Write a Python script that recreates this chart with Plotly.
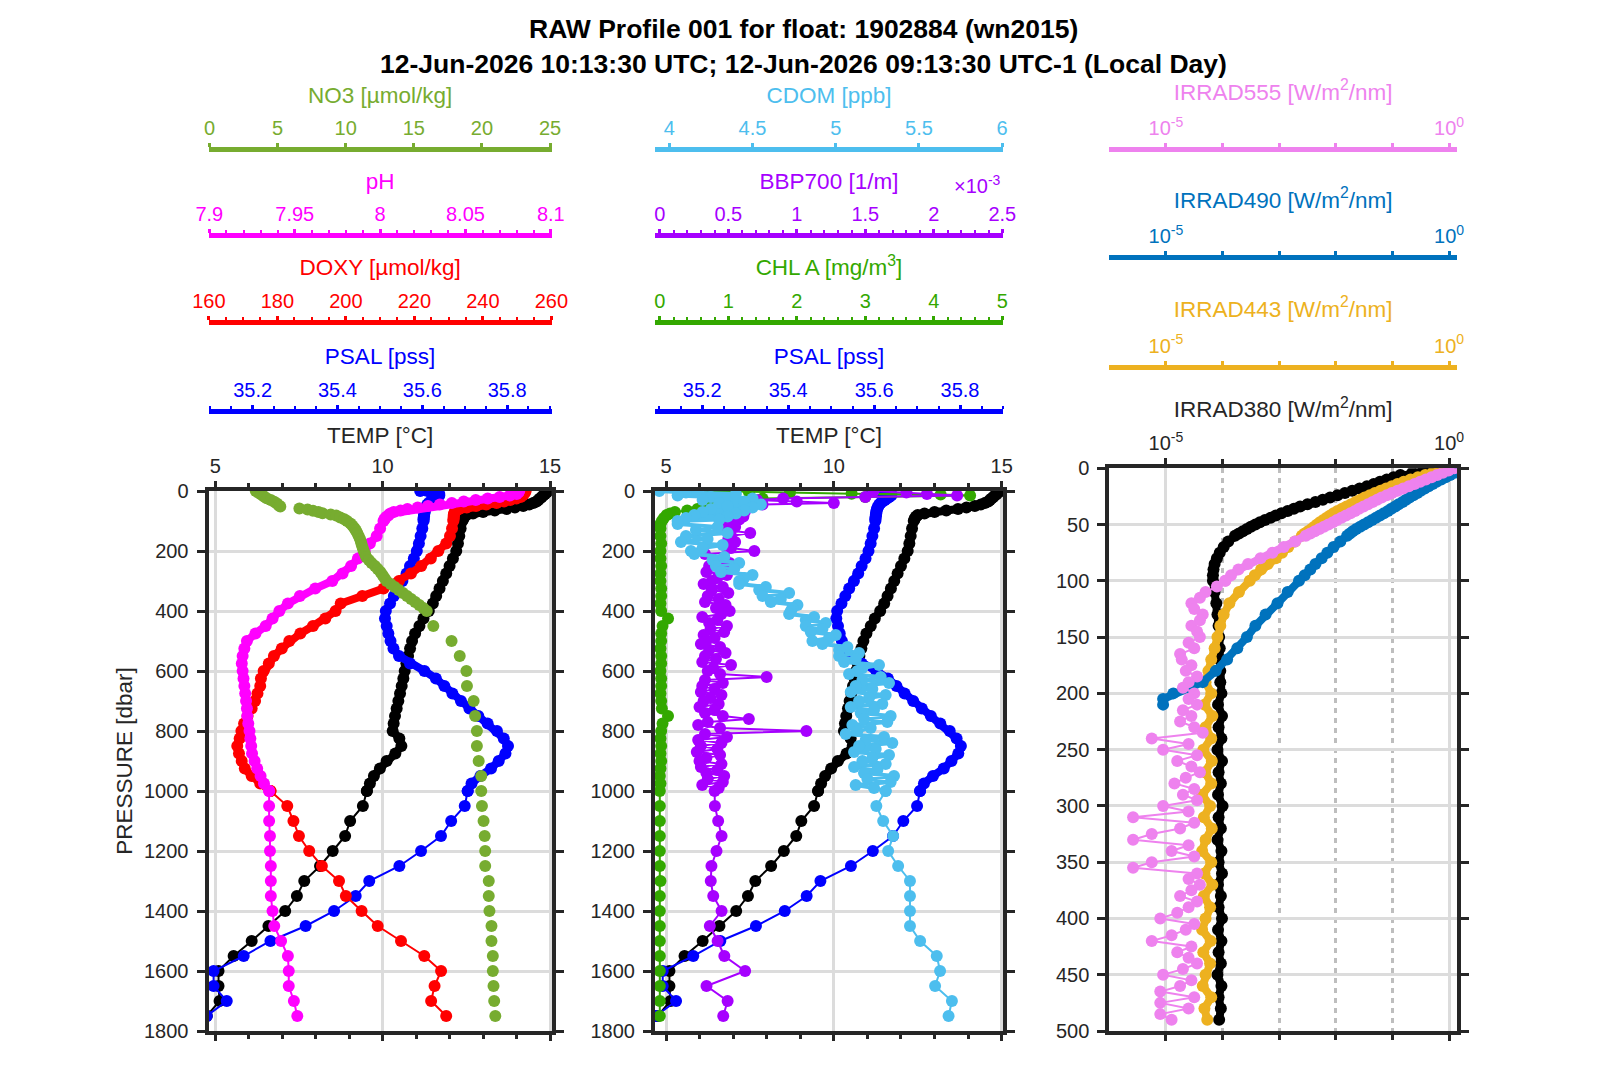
import plotly.graph_objects as go

# ---------------- DATA ----------------
# Left & middle panels: pressure levels (dbar)
PRES = [0, 5, 10, 15, 20, 25, 30, 35, 40, 45, 50, 55, 60, 65, 70, 75, 80, 85, 90, 95, 100,
        125, 150, 175, 200, 225, 250, 275, 300, 325, 350, 375, 400, 425, 450, 475, 500,
        525, 550, 575, 600, 625, 650, 675, 700, 725, 750, 775, 800, 825, 850, 875, 900,
        925, 950, 975, 1000,
        1050, 1100, 1150, 1200, 1250, 1300, 1350, 1400, 1450, 1500, 1550, 1600, 1650, 1700, 1750]

TEMP = [14.95, 14.9, 14.85, 14.8, 14.75, 14.7, 14.65, 14.6, 14.5, 14.38, 14.2, 13.95, 13.7, 13.35, 13.0,
        12.7, 12.5, 12.45, 12.42, 12.4, 12.38,
        12.33, 12.29, 12.25, 12.2, 12.1, 12.0, 11.9, 11.8, 11.7, 11.6, 11.5, 11.38, 11.22, 11.1, 10.97, 10.88,
        10.82, 10.76, 10.71, 10.66, 10.62, 10.57, 10.52, 10.47, 10.42, 10.37, 10.33, 10.3, 10.5, 10.56, 10.38, 10.12,
        9.92, 9.74, 9.62, 9.53,
        9.41, 9.03, 8.88, 8.51, 8.13, 7.66, 7.44, 7.09, 6.59, 6.09, 5.55, 5.1, 5.1, 5.13, 4.75]

PSAL = [35.595, 35.62, 35.64, 35.64, 35.635, 35.63, 35.625, 35.62, 35.615, 35.612, 35.61, 35.608, 35.607, 35.606,
        35.605, 35.605, 35.604, 35.604, 35.603, 35.603, 35.603,
        35.6, 35.596, 35.592, 35.587, 35.58, 35.571, 35.563, 35.553, 35.542, 35.533, 35.524, 35.514, 35.512, 35.516, 35.52, 35.525,
        35.532, 35.545, 35.571, 35.605, 35.632, 35.652, 35.671, 35.691, 35.711, 35.732, 35.754, 35.776, 35.792, 35.802, 35.796, 35.78,
        35.762, 35.737, 35.716, 35.707,
        35.70, 35.668, 35.644, 35.597, 35.546, 35.475, 35.443, 35.392, 35.325, 35.242, 35.179, 35.108, 35.108, 35.139, 35.092]

DOXY = [252.5, 252.3, 252, 251.6, 251, 249.8, 248, 246.2, 244, 241, 238, 235.3, 233, 232.3, 231.8, 231.6, 231.5,
        231.5, 231.5, 231.4, 231.4,
        231, 230.4, 229.3, 227, 224.8, 222, 219, 215.5, 211, 204.8, 198.5, 197, 194, 190.4, 186.7, 183.5,
        181.3, 179, 177.5, 176, 175.2, 175, 174.2, 173.5, 172.5, 171.3, 170.3, 169.5, 169, 168.3, 168.8, 169.6,
        170.5, 172.5, 175, 178,
        182.9, 184.7, 186.3, 189.3, 193, 198, 200, 204.6, 209.3, 216.1, 222.9, 227.8, 225.9, 224.9, 229.3]

PH = [8.0815, 8.081, 8.08, 8.076, 8.07, 8.063, 8.056, 8.049, 8.042, 8.035, 8.028, 8.022, 8.016, 8.012, 8.008,
      8.006, 8.005, 8.004, 8.003, 8.0025, 8.002,
      8.0, 7.998, 7.994, 7.991, 7.987, 7.983, 7.978, 7.972, 7.962, 7.953, 7.946, 7.941, 7.937, 7.933, 7.927, 7.922,
      7.9205, 7.9195, 7.919, 7.9195, 7.92, 7.9205, 7.921, 7.9215, 7.922, 7.9222, 7.9228, 7.9235, 7.924, 7.9245, 7.925, 7.9265,
      7.928, 7.93, 7.932, 7.935,
      7.935, 7.935, 7.9355, 7.9355, 7.936, 7.936, 7.936, 7.937, 7.938, 7.942, 7.946, 7.9465, 7.9465, 7.9495, 7.9515]

PRES_NO3 = [0, 6, 12, 18, 24, 30, 36, 42, 48, 52,
            58, 62, 66, 70, 74, 78, 82, 88, 94, 100, 108, 116, 124, 132, 140,
            150, 160, 170, 180, 190, 200, 210, 220, 230, 240, 250, 260, 270, 280, 290, 300,
            310, 320, 330, 340, 350, 360, 370, 380, 390, 400,
            450, 500, 550, 600, 650, 700, 750, 800, 850, 900, 950, 1000, 1050, 1100, 1150,
            1200, 1250, 1300, 1350, 1400, 1450, 1500, 1550, 1600, 1650, 1700, 1750]
NO3 = [3.4, 3.6, 3.8, 4.0, 4.2, 4.5, 4.75, 4.95, 5.1, 5.2,
       6.6, 7.2, 7.6, 8.0, 8.3, 8.9, 9.3, 9.6, 9.9, 10.1, 10.35, 10.5, 10.65, 10.75, 10.85,
       10.95, 11.05, 11.12, 11.18, 11.25, 11.32, 11.42, 11.5, 11.7, 11.9, 12.15, 12.35, 12.55, 12.7, 12.85, 13.0,
       13.3, 13.6, 13.9, 14.2, 14.5, 14.8, 15.1, 15.4, 15.7, 15.95,
       16.43, 17.77, 18.37, 18.86, 18.9, 19.39, 19.5, 19.63, 19.63, 19.76, 19.95, 19.95, 20.0, 20.12, 20.2,
       20.24, 20.24, 20.5, 20.5, 20.55, 20.7, 20.7, 20.8, 20.8, 20.85, 20.9, 20.98]

PRES_CHL = [0, 3, 6, 9, 12, 15, 20, 25, 30, 40, 50, 60, 65, 70, 75, 80, 90, 100, 110,
            125, 150, 175, 200, 225, 250, 275, 300, 325, 350, 375, 400, 425, 450, 475, 500,
            525, 550, 575, 600, 625, 650, 675, 700, 725, 750, 775, 800, 825, 850, 875, 900,
            925, 950, 975, 1000,
            1050, 1100, 1150, 1200, 1250, 1300, 1350, 1400, 1450, 1500, 1550, 1600, 1650, 1700, 1750]
CHLA = [0.73, 1.3, 1.9, 2.8, 4.1, 4.53, 3.0, 1.5, 0.9, 0.7, 0.65, 0.55, 0.4, 0.22, 0.15, 0.1, 0.06, 0.03, 0.01,
        0.01, 0.01, 0.02, 0.01, 0.01, 0.02, 0.01, 0.01, 0.02, 0.02, 0.01, 0.02, 0.12, 0.04, 0.02, 0.02,
        0.01, 0.02, 0.02, 0.01, 0.02, 0.02, 0.01, 0.02, 0.03, 0.12, 0.04, 0.02, 0.01, 0.02, 0.01, 0.02,
        0.01, 0.0, 0.01, 0.0,
        0.0, 0.0, 0.0, 0.0, 0.0, 0.01, 0.0, 0.0, 0.0, 0.0, 0.0, 0.0, 0.0, 0.0, 0.0]

PRES_MID = [0, 5, 10, 15, 20, 25, 30, 35, 40, 45, 50, 55, 60, 65, 70, 75, 80, 85, 90, 95, 100,
            110, 120, 130, 140, 150, 160, 170, 180, 190, 200,
            210, 220, 230, 240, 250, 260, 270, 280, 290, 300,
            310, 320, 330, 340, 350, 360, 370, 380, 390, 400,
            410, 420, 430, 440, 450, 460, 470, 480, 490, 500,
            510, 520, 530, 540, 550, 560, 570, 580, 590, 600,
            610, 620, 630, 640, 650, 660, 670, 680, 690, 700,
            710, 720, 730, 740, 750, 760, 770, 780, 790, 800,
            810, 820, 830, 840, 850, 860, 870, 880, 890, 900,
            910, 920, 930, 940, 950, 960, 970, 980, 990, 1000,
            1050, 1100, 1150, 1200, 1250, 1300, 1350, 1400, 1450, 1500, 1550, 1600, 1650, 1700, 1750]
CDOM = [3.94, 4.1, 4.4, 4.05, 4.25, 4.5, 4.2, 4.45, 4.3, 4.55, 4.35, 4.5, 4.25, 4.45, 4.2, 4.4, 4.15, 4.35, 4.1, 4.3, 4.05,
        4.05, 4.29, 4.16, 4.35, 4.1, 4.23, 4.07, 4.32, 4.2, 4.13,
        4.15, 4.33, 4.26, 4.42, 4.28, 4.39, 4.31, 4.5, 4.45, 4.42,
        4.42, 4.58, 4.54, 4.72, 4.56, 4.67, 4.61, 4.77, 4.74, 4.73,
        4.72, 4.87, 4.82, 4.94, 4.82, 4.92, 4.85, 5.0, 4.96, 4.86,
        4.92, 5.07, 5.02, 5.14, 5.02, 5.12, 5.05, 5.26, 5.16, 5.13,
        5.08, 5.27, 5.16, 5.32, 5.12, 5.22, 5.09, 5.3, 5.2, 5.14,
        5.28, 5.09, 5.23, 5.15, 5.33, 5.17, 5.31, 5.1, 5.21, 5.13,
        5.06, 5.29, 5.18, 5.34, 5.14, 5.24, 5.11, 5.32, 5.22, 5.16,
        5.3, 5.11, 5.25, 5.17, 5.35, 5.19, 5.33, 5.12, 5.23, 5.3,
        5.244, 5.285, 5.345, 5.315, 5.375, 5.446, 5.446, 5.446, 5.446, 5.507, 5.607, 5.627, 5.597, 5.698, 5.678]
BBP700_E3 = [1.56, 1.8, 1.95, 2.17, 1.5, 0.9, 0.71, 1.0, 1.27, 0.75, 0.65, 0.6, 0.63, 0.58, 0.62, 0.57, 0.6, 0.61, 0.55, 0.58, 0.54,
             0.5, 0.55, 0.48, 0.66, 0.52, 0.5, 0.55, 0.47, 0.52, 0.69,
             0.33, 0.47, 0.39, 0.51, 0.36, 0.44, 0.34, 0.49, 0.42, 0.38,
             0.32, 0.46, 0.38, 0.5, 0.35, 0.43, 0.33, 0.48, 0.41, 0.51,
             0.45, 0.31, 0.42, 0.36, 0.49, 0.37, 0.47, 0.32, 0.4, 0.34,
             0.3, 0.44, 0.36, 0.48, 0.33, 0.41, 0.31, 0.52, 0.39, 0.35,
             0.44, 0.78, 0.33, 0.46, 0.31, 0.4, 0.3, 0.45, 0.37, 0.32,
             0.43, 0.29, 0.4, 0.33, 0.46, 0.65, 0.35, 0.28, 0.44, 1.07,
             0.33, 0.49, 0.28, 0.45, 0.3, 0.42, 0.27, 0.44, 0.34, 0.29,
             0.45, 0.3, 0.42, 0.34, 0.47, 0.35, 0.46, 0.31, 0.43, 0.4,
             0.402, 0.426, 0.451, 0.414, 0.377, 0.372, 0.39, 0.451, 0.365, 0.422, 0.471, 0.623, 0.341, 0.495, 0.463]

# Right panel: irradiance (stored as log10 of W/m^2/nm)
PRES_IRR = [0, 2, 4, 6, 8, 10, 12, 14, 16, 18, 20, 22, 24, 26, 28, 30, 32, 34, 36, 38, 40,
            42, 44, 46, 48, 50, 52, 54, 56, 58, 60, 65, 70, 75, 80, 85, 90, 95, 100,
            110, 120, 130, 140, 150, 160, 170, 180, 190, 200, 210, 220, 230, 240, 250, 260, 270, 280, 290,
            300, 310, 320, 330, 340, 350, 360, 370, 380, 390, 400, 410, 420, 430, 440, 450, 460, 470, 480, 490]
IRR380_LOG10 = [-0.27, -0.45, -0.65, -0.86, -0.98, -1.1, -1.22, -1.33, -1.45, -1.58, -1.71, -1.84, -1.97, -2.1, -2.23,
                -2.36, -2.5, -2.63, -2.74, -2.85, -2.96, -3.06, -3.15, -3.25, -3.34, -3.42, -3.5, -3.57, -3.64, -3.71,
                -3.78, -3.9, -3.98, -4.05, -4.1, -4.14, -4.16, -4.17, -4.17,
                -4.14, -4.11, -4.09, -4.07, -4.06, -4.05, -4.05, -4.04, -4.04, -4.02, -4.08, -4.01, -4.07, -4.02,
                -4.09, -4.01, -4.07, -4.03, -4.08, -4.0, -4.07, -4.03, -4.09, -4.02, -4.07, -4.01, -4.08, -4.03,
                -4.07, -4.01, -4.08, -4.02, -4.07, -4.03, -4.09, -4.02, -4.07, -4.03, -4.06]
IRR443_LOG10 = [-0.03, -0.16, -0.29, -0.42, -0.55, -0.68, -0.8, -0.91, -1.01, -1.11, -1.21, -1.31, -1.4, -1.49, -1.57,
                -1.65, -1.73, -1.81, -1.89, -1.97, -2.04, -2.1, -2.16, -2.22, -2.28, -2.33, -2.38, -2.43, -2.49, -2.55,
                -2.6, -2.72, -2.84, -2.95, -3.06, -3.2, -3.32, -3.43, -3.52,
                -3.71, -3.88, -3.98, -4.04, -4.09, -4.14, -4.2, -4.25, -4.3, -4.2, -4.32, -4.18, -4.3, -4.2,
                -4.34, -4.19, -4.31, -4.2, -4.36, -4.22, -4.33, -4.19, -4.3, -4.36, -4.2, -4.32, -4.18, -4.33,
                -4.22, -4.3, -4.36, -4.21, -4.34, -4.22, -4.3, -4.35, -4.2, -4.32, -4.27]
PRES_490 = [0, 2, 4, 6, 8, 10, 12, 14, 16, 18, 20, 22, 24, 26, 28, 30, 32, 34, 36, 38, 40,
            42, 44, 46, 48, 50, 52, 54, 56, 58, 60, 65, 70, 75, 80, 85, 90, 95, 100,
            110, 120, 130, 140, 150, 160, 170, 180, 190, 195, 200, 205, 210]
IRR490_LOG10 = [0.13, 0.12, 0.1, 0.02, -0.06, -0.14, -0.22, -0.29, -0.36, -0.43, -0.5, -0.56, -0.63, -0.7, -0.76,
                -0.82, -0.89, -0.95, -1.02, -1.08, -1.15, -1.22, -1.29, -1.36, -1.43, -1.5, -1.57, -1.64, -1.7, -1.75,
                -1.8, -1.92, -2.04, -2.15, -2.25, -2.36, -2.45, -2.55, -2.65,
                -2.85, -3.03, -3.24, -3.42, -3.57, -3.74, -3.92, -4.12, -4.35, -4.6, -4.87, -5.05, -5.05]
PRES_555 = [0, 2, 4, 6, 8, 10, 12, 14, 16, 18, 20, 22, 24, 26, 28, 30, 32, 34, 36, 38, 40,
            42, 44, 46, 48, 50, 52, 54, 56, 58, 60, 65, 70, 75, 80, 85, 90, 95, 100,
            105, 110, 115, 120, 125, 130, 135, 140, 145, 150, 155, 160, 165, 170, 175, 180, 185, 190, 195, 200,
            205, 210, 215, 220, 225, 230, 235, 240, 245, 250, 255, 260, 265, 270, 275, 280, 285, 290, 295, 300,
            305, 310, 315, 320, 325, 330, 335, 340, 345, 350, 355, 360, 365, 370, 375, 380, 385, 390, 395, 400,
            405, 410, 415, 420, 425, 430, 435, 440, 445, 450, 455, 460, 465, 470, 475, 480, 485, 490]
IRR555_LOG10 = [0.09, -0.01, -0.11, -0.21, -0.31, -0.41, -0.51, -0.61, -0.71, -0.81, -0.91, -1.01, -1.1, -1.19, -1.27,
                -1.35, -1.43, -1.51, -1.59, -1.66, -1.74, -1.82, -1.9, -1.98, -2.05, -2.13, -2.21, -2.29, -2.37, -2.45,
                -2.53, -2.72, -2.92, -3.12, -3.33, -3.55, -3.72, -3.85, -3.95,
                -4.1, -4.3, -4.4, -4.55, -4.5, -4.35, -4.4, -4.55, -4.45, -4.4,
                -4.6, -4.5, -4.75, -4.72, -4.55, -4.65, -4.45, -4.6, -4.7, -4.5,
                -4.6, -4.45, -4.7, -4.55, -4.75, -4.5, -4.35, -5.25, -4.6, -5.05,
                -4.45, -4.8, -4.55, -4.4, -4.65, -4.85, -4.5, -4.7, -4.45, -5.05,
                -4.6, -5.58, -4.5, -4.75, -5.25, -5.58, -4.6, -4.9, -4.5, -5.25,
                -5.58, -4.45, -4.6, -4.4, -4.55, -4.75, -4.45, -4.6, -4.8, -5.1,
                -4.5, -4.65, -4.9, -5.25, -4.55, -4.8, -4.6, -4.45, -4.7, -5.05,
                -4.55, -4.75, -5.1, -4.5, -5.1, -4.6, -5.1, -4.9]

# tick labels
Y_TICKS_LM = [0, 200, 400, 600, 800, 1000, 1200, 1400, 1600, 1800]
Y_TICKS_R = [0, 50, 100, 150, 200, 250, 300, 350, 400, 450, 500]
TEMP_TICKS = [5, 10, 15]
PSAL_TICKS = [35.2, 35.4, 35.6, 35.8]
DOXY_TICKS = [160, 180, 200, 220, 240, 260]
PH_TICKS = [7.9, 7.95, 8.0, 8.05, 8.1]
PH_TEXT = ['7.9', '7.95', '8', '8.05', '8.1']
NO3_TICKS = [0, 5, 10, 15, 20, 25]
CHL_TICKS = [0, 1, 2, 3, 4, 5]
BBP_TICKS = [0, 0.5, 1, 1.5, 2, 2.5]
CDOM_TICKS = [4, 4.5, 5, 5.5, 6]
IRR_MAJOR = [1e-5, 1e0]
IRR_MAJOR_TEXT = ['10<sup>-5</sup>', '10<sup>0</sup>']
IRR_MINOR = [1e-4, 1e-3, 1e-2, 1e-1]

# ---------------- STYLE / LAYOUT ----------------
W, H = 1606, 1071
FONT = "Liberation Sans, Arial, Helvetica, sans-serif"
AX = '#262626'
GRID = '#DCDCDC'
TICK_SIZE = 20
TITLE_SIZE = 22.5
MSIZE = 12
DENSE_W = 8      # line width where samples are dense (continuous band look)
SPARSE_W = 2     # thin connecting line between sparse samples
DENSE_LIMIT = 1000  # dbar, end of the densely sampled part of the profiles

C_TEMP = '#000000'
C_PSAL = '#0000FF'
C_DOXY = '#FF0000'
C_PH = '#FF00FF'
C_NO3 = '#77AC30'
C_CHL = '#33A800'
C_BBP = '#A600FF'
C_CDOM = '#4DBEEE'
C_380 = '#000000'
C_443 = '#EDB120'
C_490 = '#0072BD'
C_555 = '#EE82EE'


def fx(p):
    return p / W


def fy(p):
    return 1 - p / H


L_DOM = [fx(208.5), fx(551.7)]
M_DOM = [fx(655), fx(1003)]
R_DOM = [fx(1109.3), fx(1457)]
Y_LM = [fy(1031), fy(491)]
Y_R = [fy(1031), fy(468.3)]


def main_x(dom, anchor, rng, title, tickvals, ticktext=None, typ='linear', minor=None):
    d = dict(domain=dom, anchor=anchor, side='top', range=rng, type=typ, automargin=False,
             tickmode='array', tickvals=tickvals,
             showgrid=True, gridcolor=GRID, gridwidth=3, zeroline=False,
             showline=True, linecolor=AX, linewidth=4, mirror='ticks',
             ticks='outside', ticklen=6, tickwidth=3, tickcolor=AX,
             tickfont=dict(family=FONT, size=TICK_SIZE, color=AX),
             title=dict(text=title, font=dict(family=FONT, size=TITLE_SIZE, color=AX), standoff=6))
    if ticktext is not None:
        d['ticktext'] = ticktext
    if minor is not None:
        d['minor'] = minor
    return d


def top_x(dom, overlay, pos, rng, color, title, tickvals, ticktext=None, typ='linear', minor=None):
    d = dict(domain=dom, overlaying=overlay, anchor='free', position=pos, side='top', range=rng, type=typ,
             automargin=False, tickmode='array', tickvals=tickvals,
             showgrid=False, zeroline=False,
             showline=True, linecolor=color, linewidth=5,
             ticks='outside', ticklen=4, tickwidth=3, tickcolor=color,
             tickfont=dict(family=FONT, size=TICK_SIZE, color=color),
             title=dict(text=title, font=dict(family=FONT, size=TITLE_SIZE, color=color), standoff=6))
    if ticktext is not None:
        d['ticktext'] = ticktext
    if minor is not None:
        d['minor'] = minor
    return d


def y_ax(dom, anchor, rng, tickvals, title=None):
    d = dict(domain=dom, anchor=anchor, range=rng, tickmode='array', tickvals=tickvals, automargin=False,
             showgrid=True, gridcolor=GRID, gridwidth=3, zeroline=False,
             showline=True, linecolor=AX, linewidth=4, mirror='ticks',
             ticks='outside', ticklen=8, tickwidth=3, tickcolor=AX, ticklabelstandoff=4,
             tickfont=dict(family=FONT, size=TICK_SIZE, color=AX))
    if title:
        d['title'] = dict(text=title, font=dict(family=FONT, size=TITLE_SIZE, color=AX), standoff=6)
    return d


def minor_lin(dtick, tick0, color):
    return dict(dtick=dtick, tick0=tick0, ticks='outside', ticklen=3, tickwidth=2, tickcolor=color)


POS1 = fy(149.3)
POS2L = fy(235)
POS3L = fy(321.7)
POS4L = fy(410.7)
POS2R = fy(257.3)
POS3R = fy(366.7)

fig = go.Figure()


def add(x, y, xa, ya, color, mode='lines+markers', width=SPARSE_W):
    fig.add_trace(go.Scatter(x=x, y=y, xaxis=xa, yaxis=ya, mode=mode,
                             line=dict(color=color, width=width),
                             marker=dict(color=color, size=MSIZE, line=dict(width=0)),
                             showlegend=False, hoverinfo='skip'))


def add_profile(x, p, xa, ya, color, limit=DENSE_LIMIT, dense_w=DENSE_W):
    """Densely sampled upper part drawn as a continuous band, sparse deep part with thin line."""
    n = sum(1 for v in p if v <= limit)
    add(x[:n], p[:n], xa, ya, color, width=dense_w)
    if n < len(p):
        add(x[n - 1:], p[n - 1:], xa, ya, color, width=SPARSE_W)


irr380 = [10 ** v for v in IRR380_LOG10]
irr443 = [10 ** v for v in IRR443_LOG10]
irr490 = [10 ** v for v in IRR490_LOG10]
irr555 = [10 ** v for v in IRR555_LOG10]

# Left panel
add_profile(TEMP, PRES, 'x', 'y', C_TEMP)
add_profile(PSAL, PRES, 'x2', 'y', C_PSAL)
add_profile(DOXY, PRES, 'x3', 'y', C_DOXY)
add_profile(PH, PRES, 'x4', 'y', C_PH)
add(NO3, PRES_NO3, 'x5', 'y', C_NO3, mode='markers')
# Middle panel
add_profile(TEMP, PRES, 'x6', 'y2', C_TEMP)
add_profile(PSAL, PRES, 'x7', 'y2', C_PSAL)
add(CHLA, PRES_CHL, 'x8', 'y2', C_CHL)
add(BBP700_E3, PRES_MID, 'x9', 'y2', C_BBP)
add_profile(CDOM, PRES_MID, 'x10', 'y2', C_CDOM, dense_w=4)
# Right panel
add_profile(irr380, PRES_IRR, 'x11', 'y3', C_380)
add_profile(irr443, PRES_IRR, 'x12', 'y3', C_443)
add_profile(irr490, PRES_490, 'x13', 'y3', C_490)
add_profile(irr555, PRES_555, 'x14', 'y3', C_555, limit=100)

IRR_RANGE = [-6.0, 0.14]
irr_minor_main = dict(tickmode='array', tickvals=IRR_MINOR, ticks='outside', ticklen=5, tickwidth=3,
                      tickcolor=AX, showgrid=True, gridcolor='#BEBEBE', gridwidth=3, griddash='5px,5px')


def irr_minor(color):
    return dict(tickmode='array', tickvals=IRR_MINOR, ticks='outside', ticklen=4, tickwidth=3, tickcolor=color)


fig.update_layout(
    width=W, height=H, autosize=False,
    margin=dict(l=0, r=0, t=0, b=0, pad=0, autoexpand=False),
    showlegend=False,
    paper_bgcolor='white', plot_bgcolor='white',
    font=dict(family=FONT, size=TICK_SIZE, color=AX),
    xaxis=main_x(L_DOM, 'y', [4.8, 15.05], 'TEMP [°C]', TEMP_TICKS,
                 minor=dict(dtick=1, tick0=0, ticks='outside', ticklen=4, tickwidth=3, tickcolor=AX)),
    xaxis2=top_x(L_DOM, 'x', POS4L, [35.096, 35.905], C_PSAL, 'PSAL [pss]', PSAL_TICKS,
                 minor=minor_lin(0.05, 35.0, C_PSAL)),
    xaxis3=top_x(L_DOM, 'x', POS3L, [159.9, 260.1], C_DOXY, 'DOXY [µmol/kg]', DOXY_TICKS,
                 minor=minor_lin(5, 160, C_DOXY)),
    xaxis4=top_x(L_DOM, 'x', POS2L, [7.8995, 8.1005], C_PH, 'pH', PH_TICKS, ticktext=PH_TEXT,
                 minor=minor_lin(0.01, 7.9, C_PH)),
    xaxis5=top_x(L_DOM, 'x', POS1, [-0.07, 25.12], C_NO3, 'NO3 [µmol/kg]', NO3_TICKS),
    xaxis6=main_x(M_DOM, 'y2', [4.67, 15.04], 'TEMP [°C]', TEMP_TICKS,
                  minor=dict(dtick=1, tick0=0, ticks='outside', ticklen=4, tickwidth=3, tickcolor=AX)),
    xaxis7=top_x(M_DOM, 'x6', POS4L, [35.09, 35.90], C_PSAL, 'PSAL [pss]', PSAL_TICKS,
                 minor=minor_lin(0.05, 35.0, C_PSAL)),
    xaxis8=top_x(M_DOM, 'x6', POS3L, [-0.07, 5.01], C_CHL, 'CHL A [mg/m<sup>3</sup>]', CHL_TICKS,
                 minor=minor_lin(0.2, 0, C_CHL)),
    xaxis9=top_x(M_DOM, 'x6', POS2L, [-0.035, 2.505], C_BBP, 'BBP700 [1/m]', BBP_TICKS,
                 minor=minor_lin(0.1, 0, C_BBP)),
    xaxis10=top_x(M_DOM, 'x6', POS1, [3.914, 6.005], C_CDOM, 'CDOM [ppb]', CDOM_TICKS),
    xaxis11=main_x(R_DOM, 'y3', IRR_RANGE, 'IRRAD380 [W/m<sup>2</sup>/nm]', IRR_MAJOR,
                   ticktext=IRR_MAJOR_TEXT, typ='log', minor=irr_minor_main),
    xaxis12=top_x(R_DOM, 'x11', POS3R, IRR_RANGE, C_443, 'IRRAD443 [W/m<sup>2</sup>/nm]', IRR_MAJOR,
                  ticktext=IRR_MAJOR_TEXT, typ='log', minor=irr_minor(C_443)),
    xaxis13=top_x(R_DOM, 'x11', POS2R, IRR_RANGE, C_490, 'IRRAD490 [W/m<sup>2</sup>/nm]', IRR_MAJOR,
                  ticktext=IRR_MAJOR_TEXT, typ='log', minor=irr_minor(C_490)),
    xaxis14=top_x(R_DOM, 'x11', POS1, IRR_RANGE, C_555, 'IRRAD555 [W/m<sup>2</sup>/nm]', IRR_MAJOR,
                  ticktext=IRR_MAJOR_TEXT, typ='log', minor=irr_minor(C_555)),
    yaxis=y_ax(Y_LM, 'x', [1800, 0], Y_TICKS_LM, title='PRESSURE [dbar]'),
    yaxis2=y_ax(Y_LM, 'x6', [1800, 0], Y_TICKS_LM),
    yaxis3=y_ax(Y_R, 'x11', [500, 0], Y_TICKS_R),
    annotations=[
        dict(text='<b>RAW Profile 001 for float: 1902884 (wn2015)</b>', x=0.5, y=fy(28.7),
             xref='paper', yref='paper', showarrow=False, xanchor='center', yanchor='middle',
             font=dict(family=FONT, size=26.5, color='black')),
        dict(text='<b>12-Jun-2026 10:13:30 UTC; 12-Jun-2026 09:13:30 UTC-1 (Local Day)</b>', x=0.5, y=fy(63.5),
             xref='paper', yref='paper', showarrow=False, xanchor='center', yanchor='middle',
             font=dict(family=FONT, size=26.5, color='black')),
        dict(text='×10<sup>-3</sup>', x=fx(1003), y=fy(184), xref='paper', yref='paper', showarrow=False,
             xanchor='right', yanchor='middle', font=dict(family=FONT, size=TICK_SIZE, color=C_BBP)),
    ],
)

fig.write_html("out.html",
               post_script="document.body.style.margin='0';document.body.style.padding='0';"
                           "document.documentElement.style.overflow='hidden';")
